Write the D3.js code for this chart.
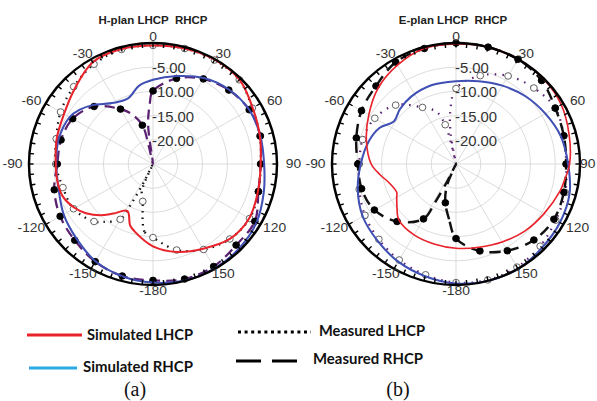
<!DOCTYPE html>
<html>
<head>
<meta charset="utf-8">
<script src="https://cdn.jsdelivr.net/npm/d3@7"></script>
<style>
body { margin: 0; background: #fff; }
svg { display: block; }
</style>
</head>
<body>
<svg id="chart" width="597" height="401"></svg>
<script>
// ---- H-plane (a) ----
const hSimLhcpAng = [-180,-165,-160,-152,-142,-135,-127,-120,-110,-100,-90,-75,-60,-45,-30,-15,0,15,30,45,60,75,90,105,120,135,150,165]
const hSimLhcpDb  = [-8.0,-10.6,-11.5,-14.0,-12.0,-10.0,-8.1,-6.8,-5.6,-5.4,-5.4,-4.9,-4.3,-2.8,-0.7,-0.4,-0.5,-0.3,-0.1,-0.35,-1.8,-2.7,-3.3,-3.1,-2.6,-3.1,-4.8,-6.2]
const hSimRhcpAng = [-180,-165,-150,-135,-120,-105,-90,-75,-60,-53,-45,-32,-20,-10,0,15,30,45,60,75,90,105,120,135,150,165]
const hSimRhcpDb  = [-0.5,-1.0,-1.8,-3.2,-4.2,-5.3,-5.5,-5.3,-5.6,-6.4,-7.8,-10.1,-10.5,-8.6,-7.6,-6.2,-4.5,-3.3,-2.6,-2.6,-2.6,-1.9,-0.9,-0.4,-0.1,-0.1]
const hMeasRhcpAng = [-180,-165,-150,-135,-120,-105,-90,-75,-60,-45,-30,-23,-15,-13,-11,-7,-3,0,15,30,45,60,75,90,105,120,135,150,165]
const hMeasRhcpDb  = [-0.95,-1.05,-1.7,-2.7,-3.4,-4.4,-5.7,-5.8,-6.3,-8.2,-11.9,-13.7,-16.7,-21,-25,-17,-12.5,-9.9,-6.7,-4.7,-3.4,-2.6,-2.6,-3.3,-3.0,-1.3,-1.3,-0.55,-0.4]
const hMeasLhcpAng = [-180,-173,-170,-165,-158,-155.5,-154,-152,-150,-140,-135,-120,-105,-90,-75,-60,-45,-30,-15,0,15,30,45,60,75,90,105,120,135,150,165]
const hMeasLhcpDb  = [-9.8,-10.9,-13,-17,-19,-25,-21,-16,-11.8,-9.4,-8.2,-6.5,-6.2,-5.4,-4.8,-3.5,-2.4,-1.2,-0.5,-0.5,-0.3,-0.2,-0.4,-1.9,-2.7,-3.3,-3.0,-2.5,-3.1,-4.6,-6.6]

// ---- E-plane (b) ----
const eSimLhcpAng = [-180,-165,-150,-135,-127,-120,-116,-107,-98,-90,-75,-60,-45,-30,-15,0,15,30,45,60,75,90,99,105,120,135,150,165]
const eSimLhcpDb  = [-7.6,-7.9,-8.1,-8.7,-10.1,-11.2,-11.7,-11.1,-9.5,-7.9,-6.3,-4.7,-2.8,-1.4,-0.3,-0.2,0,0,-0.1,-0.5,-1.4,-2.1,-2.9,-3.3,-4.5,-5.4,-6.4,-7.2]
const eSimRhcpAng = [-180,-165,-150,-135,-120,-105,-90,-75,-64,-55,-45,-33,-17,0,15,30,45,60,75,90,105,120,135,150,165]
const eSimRhcpDb  = [-0.3,-1.0,-1.7,-2.6,-3.3,-4.5,-5.8,-6.8,-7.9,-9.7,-9.0,-8.4,-8.0,-7.9,-7.3,-6.3,-5.2,-4.2,-3.1,-2.4,-1.3,-0.8,-0.5,0,0]
const eMeasRhcpAng = [-180,-173,-165,-158,-155.5,-154,-152,-150,-135,-120,-105,-90,-75,-60,-45,-30,-15,0,15,30,45,60,75,90,105,120,135,150,165]
const eMeasRhcpDb  = [-9.6,-13.5,-16.7,-20,-25,-21.5,-16,-11.9,-8.2,-6.0,-5.3,-5.2,-4.2,-3.0,-2.2,-0.7,-0.3,0,0,0,-0.6,-1.9,-2.5,-2.8,-2.5,-2.2,-2.8,-4.3,-6.4]
const eMeasLhcpAng = [-180,-165,-150,-135,-120,-105,-90,-75,-60,-45,-30,-20,-15,-13,-12,-10,-6,0,15,30,45,60,75,90,105,120,135,150,165]
const eMeasLhcpDb  = [-0.5,-1.3,-2.1,-3.0,-3.8,-4.8,-5.5,-5.5,-6.1,-7.8,-11.5,-13.5,-16.6,-21,-25,-19,-14,-9.4,-6.1,-4.0,-2.8,-1.9,-2.5,-2.8,-2.2,-1.8,-1.0,-0.4,-0.2]

// axis labels
const ringTicks = [-5, -10, -15, -20]
const angleLabels = [0, 30, 60, 90, 120, 150, -180, -150, -120, -90, -60, -30]
const legendItems = ['Simulated LHCP', 'Simulated RHCP', 'Measured LHCP', 'Measured RHCP']

const W = 597
const R = 121
const SX = 1.025
const rScale = d3.scaleLinear().domain([-25, 0]).range([0, R]).clamp(true)
const rad = a => a * Math.PI / 180

const RED = '#e8232b', BLUE = '#3f4fb3', PURPLE = '#5a2170', BLACK = '#111'

const svg = d3.select('#chart')

const zip = (ang, db) => ang.map((a, i) => ({ a: a, v: db[i] }))

const drawPolar = (cx, cy, title, titleX, series) => {
	const g = svg.append('g')
		.attr('transform', 'translate(' + cx + ',' + cy + ') scale(' + SX + ',1)')

	// grid rings
	g.selectAll('.ring')
		.data(ringTicks)
		.enter().append('circle')
		.attr('r', d => rScale(d))
		.attr('fill', 'none')
		.attr('stroke', '#d4d4d4')
		.attr('stroke-width', 0.8)

	// spokes
	g.selectAll('.spoke')
		.data(d3.range(0, 360, 30))
		.enter().append('line')
		.attr('x1', 0).attr('y1', 0)
		.attr('x2', d => R * Math.sin(rad(d)))
		.attr('y2', d => -R * Math.cos(rad(d)))
		.attr('stroke', '#d4d4d4')
		.attr('stroke-width', 0.8)

	// ring labels
	g.selectAll('.rlab')
		.data(ringTicks)
		.enter().append('text')
		.attr('x', -1)
		.attr('y', d => -rScale(d) + 1)
		.attr('dominant-baseline', 'central')
		.attr('font-family', 'Liberation Sans, Arial, sans-serif')
		.attr('font-size', 14.5)
		.attr('fill', '#333')
		.text(d => d.toFixed(2))

	// curves
	const line = d3.lineRadial()
		.angle(d => rad(d.a))
		.radius(d => rScale(d.v))
		.curve(d3.curveCatmullRomClosed.alpha(0.5))

	series.forEach(s => {
		const data = zip(s.ang, s.db)
		g.append('path')
			.datum(data)
			.attr('d', line)
			.attr('fill', 'none')
			.attr('stroke', s.color)
			.attr('stroke-width', s.width)
			.attr('stroke-dasharray', s.dash || null)
		if (s.marker) {
			g.selectAll(null)
				.data(data.filter(d => d.a % 15 === 0 && d.v > -24))
				.enter().append('circle')
				.attr('cx', d => rScale(d.v) * Math.sin(rad(d.a)))
				.attr('cy', d => -rScale(d.v) * Math.cos(rad(d.a)))
				.attr('r', 3.3)
				.attr('fill', s.marker === 'fill' ? '#000' : '#fff')
				.attr('stroke', s.marker === 'fill' ? '#000' : '#555')
				.attr('stroke-width', 0.9)
		}
	})

	// outer ring + ticks
	g.append('circle')
		.attr('r', R)
		.attr('fill', 'none')
		.attr('stroke', '#000')
		.attr('stroke-width', 2.4)
	g.selectAll('.tick')
		.data(d3.range(0, 360, 5))
		.enter().append('line')
		.attr('x1', d => (R - 4.5) * Math.sin(rad(d)))
		.attr('y1', d => -(R - 4.5) * Math.cos(rad(d)))
		.attr('x2', d => R * Math.sin(rad(d)))
		.attr('y2', d => -R * Math.cos(rad(d)))
		.attr('stroke', '#000')
		.attr('stroke-width', 1.4)

	// angle labels (kept inside the page at the right edge)
	const maxX = (W - cx) / SX - 9
	g.selectAll('.alab')
		.data(angleLabels)
		.enter().append('text')
		.attr('x', d => Math.min(137 * Math.sin(rad(d)), maxX))
		.attr('y', d => -127 * Math.cos(rad(d)))
		.attr('text-anchor', 'middle')
		.attr('dominant-baseline', 'central')
		.attr('font-family', 'Liberation Sans, Arial, sans-serif')
		.attr('font-size', 13.5)
		.attr('fill', '#333')
		.text(d => d)

	svg.append('text')
		.attr('x', titleX)
		.attr('y', 24)
		.attr('text-anchor', 'middle')
		.attr('font-family', 'Liberation Sans, Arial, sans-serif')
		.attr('font-weight', 'bold')
		.attr('font-size', 11.5)
		.attr('fill', '#222')
		.style('white-space', 'pre')
		.text(title)
}

drawPolar(153, 164, 'H-plan LHCP  RHCP', 153, [
	{ ang: hMeasLhcpAng, db: hMeasLhcpDb, color: BLACK, width: 2.2, dash: '1.5,5', marker: 'open' },
	{ ang: hMeasRhcpAng, db: hMeasRhcpDb, color: PURPLE, width: 2.2, dash: '10,6', marker: 'fill' },
	{ ang: hSimRhcpAng, db: hSimRhcpDb, color: BLUE, width: 2 },
	{ ang: hSimLhcpAng, db: hSimLhcpDb, color: RED, width: 2 }
])

drawPolar(456, 164, 'E-plan LHCP  RHCP', 453, [
	{ ang: eMeasLhcpAng, db: eMeasLhcpDb, color: PURPLE, width: 2.2, dash: '1.5,6', marker: 'open' },
	{ ang: eMeasRhcpAng, db: eMeasRhcpDb, color: BLACK, width: 2.4, dash: '11,7', marker: 'fill' },
	{ ang: eSimRhcpAng, db: eSimRhcpDb, color: BLUE, width: 2 },
	{ ang: eSimLhcpAng, db: eSimLhcpDb, color: RED, width: 1.6 }
])

// legend
const legend = svg.append('g')
const legLines = [
	{ x1: 27, x2: 82, y: 335, color: RED, dash: null },
	{ x1: 29, x2: 77, y: 368, color: '#29abe2', dash: null },
	{ x1: 238, x2: 311, y: 332, color: '#000', dash: '3,3.6' },
	{ x1: 236, x2: 297, y: 361, color: '#000', dash: '25,11' }
]
const legText = [
	{ x: 87, y: 340, w: 106 },
	{ x: 83, y: 372, w: 110 },
	{ x: 319, y: 336, w: 106 },
	{ x: 313, y: 364, w: 110 }
]
legend.selectAll('line')
	.data(legLines)
	.enter().append('line')
	.attr('x1', d => d.x1).attr('x2', d => d.x2)
	.attr('y1', d => d.y).attr('y2', d => d.y)
	.attr('stroke', d => d.color)
	.attr('stroke-width', 3)
	.attr('stroke-dasharray', d => d.dash)
legend.selectAll('text')
	.data(legendItems)
	.enter().append('text')
	.attr('x', (d, i) => legText[i].x)
	.attr('y', (d, i) => legText[i].y)
	.attr('textLength', (d, i) => legText[i].w)
	.attr('lengthAdjust', 'spacingAndGlyphs')
	.attr('font-family', 'Lato, Open Sans, sans-serif')
	.attr('font-weight', 'bold')
	.attr('font-size', 15)
	.attr('fill', '#111')
	.text(d => d)

svg.selectAll('.sub')
	.data([['(a)', 135], ['(b)', 398]])
	.enter().append('text')
	.attr('x', d => d[1])
	.attr('y', 396)
	.attr('text-anchor', 'middle')
	.attr('font-family', 'Liberation Serif, Times New Roman, serif')
	.attr('font-size', 20)
	.attr('fill', '#111')
	.text(d => d[0])
</script>
</body>
</html>
